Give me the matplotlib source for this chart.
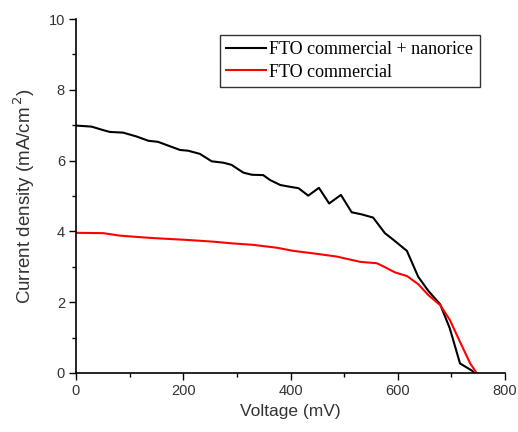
import matplotlib
matplotlib.use("Agg")
import matplotlib.pyplot as plt
from matplotlib.ticker import MultipleLocator

# J-V data
v_nano = [0, 29, 51, 63, 88, 113, 135, 153, 169, 194, 209, 231, 253, 275, 290,
          312, 328, 349, 362, 381, 399, 415, 433, 453, 472, 494, 514, 533, 554,
          576, 592, 617, 638, 657, 679, 697, 716, 739, 742]
j_nano = [6.99, 6.96, 6.86, 6.81, 6.79, 6.68, 6.56, 6.53, 6.44, 6.30, 6.28, 6.19,
          5.98, 5.94, 5.88, 5.66, 5.60, 5.59, 5.45, 5.31, 5.26, 5.22, 5.01, 5.23,
          4.79, 5.03, 4.54, 4.48, 4.39, 3.95, 3.76, 3.45, 2.72, 2.32, 1.94, 1.26,
          0.27, 0.06, 0.0]

v_fto = [0, 51, 82, 126, 157, 206, 256, 293, 330, 374, 405, 442, 486, 530, 561,
         576, 595, 617, 638, 657, 679, 697, 716, 735, 747]
j_fto = [3.96, 3.95, 3.88, 3.83, 3.80, 3.76, 3.71, 3.66, 3.62, 3.54, 3.45, 3.38,
         3.29, 3.14, 3.10, 2.99, 2.84, 2.74, 2.51, 2.20, 1.92, 1.50, 0.88, 0.27, 0.0]

fig = plt.figure(figsize=(5.18, 4.32), dpi=100)
ax = fig.add_axes([0.1467, 0.1366, 0.8283, 0.8194])

ax.plot(v_nano, j_nano, color="black", lw=1.5, label="FTO commercial + nanorice")
ax.plot(v_fto, j_fto, color="red", lw=1.5, label="FTO commercial")

ax.set_xlim(0, 800)
ax.set_ylim(0, 10)
ax.xaxis.set_major_locator(MultipleLocator(200))
ax.xaxis.set_minor_locator(MultipleLocator(100))
ax.yaxis.set_major_locator(MultipleLocator(2))
ax.yaxis.set_minor_locator(MultipleLocator(1))

for s in ["top", "right"]:
    ax.spines[s].set_visible(False)
for s in ["left", "bottom"]:
    ax.spines[s].set_linewidth(1.2)

ax.tick_params(which="major", direction="out", length=5, width=1.0,
               labelsize=10.5, labelcolor="#333333", pad=3)
ax.tick_params(which="minor", direction="out", length=3, width=1.0)
for lab in ax.get_xticklabels() + ax.get_yticklabels():
    lab.set_family("Liberation Sans")

ax.set_xlabel("Voltage (mV)", fontsize=12.5, family="Liberation Sans", color="#333333")
ax.set_ylabel("Current density (mA/cm$^{\\,2}$)", fontsize=13.5,
              family="Liberation Sans", color="#333333", labelpad=8)

leg = ax.legend(loc="upper left", bbox_to_anchor=(0.335, 0.955), fancybox=False,
                frameon=True, edgecolor="black", handlelength=2.2,
                handletextpad=0.2, borderpad=0.35, labelspacing=0.3,
                borderaxespad=0.0,
                prop={"family": "Liberation Serif", "size": 13})
leg.get_frame().set_linewidth(1.0)

fig.savefig("out.png", dpi=100)
